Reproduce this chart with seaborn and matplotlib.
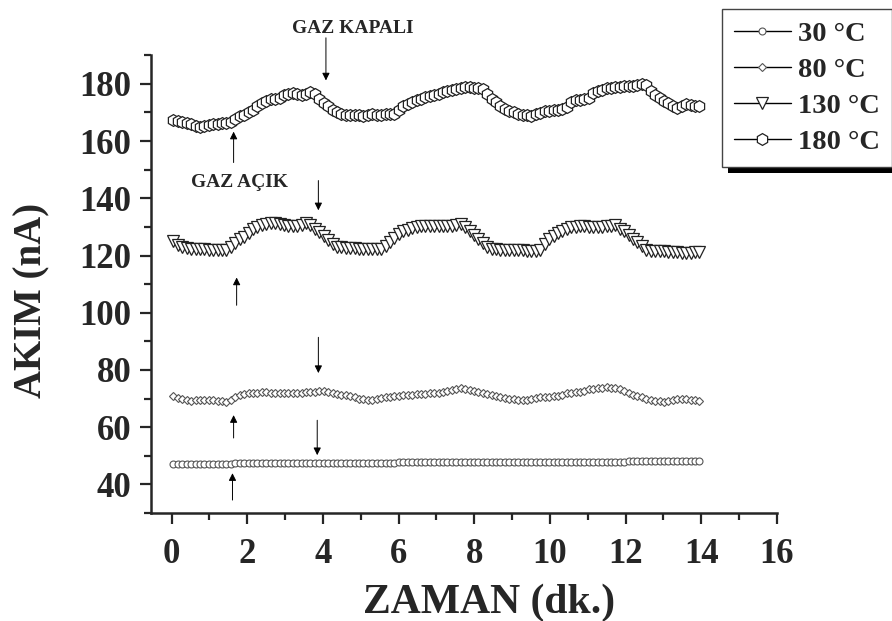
import numpy as np
import pandas as pd
import matplotlib
matplotlib.use("Agg")
import matplotlib.pyplot as plt
import seaborn as sns
from matplotlib.patches import Rectangle

# sampling times (min), 120 readings
time = np.linspace(0.05, 13.95, 120)

cur_30 = ([47.2] * 14 + [47.3] * 20 + [47.6] * 17 + [47.7] * 19
          + [47.9] * 33 + [48.1] * 17)

cur_80 = [70.8, 70.2, 69.8, 69.4, 69.2, 69.4, 69.6, 69.6, 69.4, 69.4,
          69.2, 69.0, 68.8, 69.6, 70.6, 71.2, 71.6, 71.8, 72.0, 72.1,
          72.2, 72.2, 72.0, 72.0, 72.1, 72.0, 72.0, 72.0, 72.0, 72.1,
          72.2, 72.2, 72.4, 72.6, 72.6, 72.4, 72.0, 71.6, 71.4, 71.2,
          70.8, 70.4, 70.0, 69.8, 69.6, 69.4, 69.8, 70.2, 70.4, 70.6,
          70.8, 71.0, 71.2, 71.4, 71.4, 71.6, 71.6, 71.6, 71.8, 71.8,
          72.0, 72.2, 72.6, 73.0, 73.4, 73.6, 73.4, 73.0, 72.6, 72.2,
          71.8, 71.6, 71.2, 71.0, 70.6, 70.2, 70.0, 69.8, 69.6, 69.4,
          69.6, 70.0, 70.2, 70.4, 70.6, 70.6, 70.8, 71.0, 71.4, 71.8,
          72.0, 72.2, 72.4, 72.8, 73.2, 73.4, 73.6, 73.8, 73.9, 73.8,
          73.6, 73.4, 72.6, 71.8, 71.2, 70.8, 70.4, 70.0, 69.6, 69.2,
          69.0, 68.8, 69.2, 69.6, 70.0, 70.0, 69.8, 69.6, 69.4, 69.2]

cur_130 = [125.0, 123.6, 123.0, 122.6, 122.4, 122.3, 122.2, 122.2, 122.0, 122.0,
           121.9, 121.8, 121.8, 123.0, 124.4, 125.6, 126.6, 128.0, 129.4, 130.0,
           130.6, 131.0, 131.2, 131.2, 131.0, 130.6, 130.4, 130.4, 130.4, 130.6,
           131.2, 130.8, 129.4, 128.2, 126.8, 125.4, 124.0, 123.0, 122.8, 122.6,
           122.6, 122.5, 122.4, 122.4, 122.4, 122.4, 122.4, 122.4, 123.4, 124.8,
           126.0, 127.4, 128.4, 129.0, 129.6, 130.0, 130.2, 130.4, 130.4, 130.4,
           130.2, 130.2, 130.2, 130.4, 130.8, 131.0, 129.8, 128.6, 127.2, 125.6,
           124.2, 123.0, 122.4, 122.2, 122.0, 122.0, 121.8, 121.8, 121.8, 121.8,
           121.6, 121.6, 121.6, 121.8, 124.0, 125.6, 126.8, 127.8, 128.6, 129.2,
           129.8, 130.0, 130.2, 130.2, 130.0, 130.0, 130.0, 130.0, 130.2, 130.4,
           130.6, 129.4, 128.4, 127.2, 125.8, 124.6, 123.2, 122.0, 121.6, 121.6,
           121.4, 121.4, 121.2, 121.2, 121.2, 121.0, 121.0, 121.0, 121.2, 121.2]

cur_180 = [167.2, 167.0, 166.7, 166.3, 165.8, 165.3, 165.0, 165.4, 165.6, 165.8,
           166.0, 166.2, 166.4, 166.8, 167.8, 168.6, 169.2, 170.0, 171.0, 172.2,
           173.2, 174.0, 174.6, 174.8, 175.2, 176.0, 176.6, 176.8, 176.6, 176.2,
           176.4, 177.0, 176.4, 174.8, 173.4, 172.2, 171.0, 170.2, 169.6, 169.2,
           169.0, 169.2, 169.0, 168.8, 169.2, 169.4, 169.0, 169.2, 169.6, 169.4,
           169.6, 171.0, 172.4, 172.8, 173.6, 174.4, 174.8, 175.4, 175.8, 176.2,
           176.6, 177.0, 177.4, 177.8, 178.2, 178.6, 178.8, 178.8, 178.4, 178.6,
           178.2, 176.4, 174.6, 173.6, 172.4, 171.2, 170.4, 170.0, 169.6, 169.2,
           169.0, 168.9, 169.4, 169.8, 170.4, 170.6, 170.8, 171.0, 171.2, 172.0,
           173.6, 174.2, 174.4, 174.6, 175.2, 176.8, 177.6, 178.0, 178.4, 178.6,
           178.8, 179.0, 179.2, 179.4, 179.4, 179.6, 179.8, 179.6, 177.4, 176.2,
           175.0, 174.0, 173.2, 172.2, 171.4, 172.2, 173.0, 172.6, 172.4, 172.4]

labels = ["30 °C", "80 °C", "130 °C", "180 °C"]

df = pd.DataFrame({"time": time, "30 °C": cur_30, "80 °C": cur_80,
                   "130 °C": cur_130, "180 °C": cur_180})

sns.set_style("ticks")
plt.rcParams["font.family"] = ["Liberation Serif", "DejaVu Serif"]
plt.rcParams["font.weight"] = "bold"

fig = plt.figure(figsize=(8.92, 6.21), dpi=100)
ax = fig.add_axes([0.169, 0.174, 0.702, 0.737])

# marker, size, edge width, edge color for each series
styles = {
    "30 °C": ("o", 5, 0.8, "#555555"),
    "80 °C": ("D", 4.5, 0.8, "#555555"),
    "130 °C": ("v", 8, 0.9, "#222222"),
    "180 °C": ("h", 8.5, 0.9, "#222222"),
}
for lab in labels:
    m, ms, mew, mec = styles[lab]
    sns.lineplot(data=df, x="time", y=lab, ax=ax, color="black", lw=1.0,
                 marker=m, markersize=ms, markeredgewidth=mew,
                 markeredgecolor=mec, markerfacecolor="white", label=lab,
                 legend=False)

ax.set_xlim(-0.55, 16)
ax.set_ylim(30, 190)
ax.set_xticks(np.arange(0, 17, 2))
ax.set_xticks(np.arange(1, 16, 2), minor=True)
ax.set_yticks(np.arange(40, 181, 20))
ax.set_yticks(np.arange(30, 191, 10), minor=True)
ax.tick_params(which="major", length=8, width=1.6, labelsize=25, pad=6)
ax.tick_params(which="minor", length=5, width=1.6)
ax.tick_params(axis="x", which="major", pad=10)
for lbl in ax.get_xticklabels() + ax.get_yticklabels():
    lbl.set_fontweight("bold")
sns.despine(ax=ax)
for s in ["left", "bottom"]:
    ax.spines[s].set_linewidth(1.8)

ax.set_xlabel("ZAMAN (dk.)", fontsize=30, fontweight="bold")
ax.set_ylabel("AKIM (nA)", fontsize=28, fontweight="bold")
ax.xaxis.set_label_coords(0.54, -0.155)
ax.yaxis.set_label_coords(-0.16, 0.465)

# gas on / off markers
arrows = [
    (1.64, 152.5, 163.3), (4.08, 196.1, 181.2),
    (1.72, 102.6, 112.3), (3.88, 146.2, 135.8),
    (1.64, 56.2, 64.2), (3.88, 91.4, 78.9),
    (1.61, 34.5, 43.9), (3.85, 62.4, 50.2),
]
for x, y0, y1 in arrows:
    ax.annotate("", xy=(x, y1), xytext=(x, y0), annotation_clip=False,
                arrowprops=dict(arrowstyle="-|>", color="black", lw=0.7,
                                mutation_scale=11, shrinkA=0, shrinkB=0))
ax.text(4.78, 199.3, "GAZ KAPALI", fontsize=14, fontweight="bold",
        ha="center", va="center", clip_on=False)
ax.text(1.8, 145.5, "GAZ AÇIK", fontsize=14, fontweight="bold",
        ha="center", va="center")

handles, _ = ax.get_legend_handles_labels()
leg = fig.legend(handles, labels, loc="upper left",
                 bbox_to_anchor=(722 / 892, 1 - 9 / 621), borderaxespad=0,
                 fancybox=False, edgecolor="#444444", framealpha=1,
                 prop={"size": 20.5, "weight": "bold"}, handlelength=2.0,
                 handletextpad=0.25, labelspacing=0.36, borderpad=0.42)
leg.get_frame().set_linewidth(1.0)

fig.canvas.draw()
bb = leg.get_window_extent().transformed(fig.transFigure.inverted())
shadow = Rectangle((bb.x0 + 6 / 892, bb.y0 - 6 / 621), bb.width, bb.height,
                   transform=fig.transFigure, facecolor="black",
                   edgecolor="none", zorder=leg.get_zorder() - 1)
fig.add_artist(shadow)

fig.savefig("out.png", dpi=100)
